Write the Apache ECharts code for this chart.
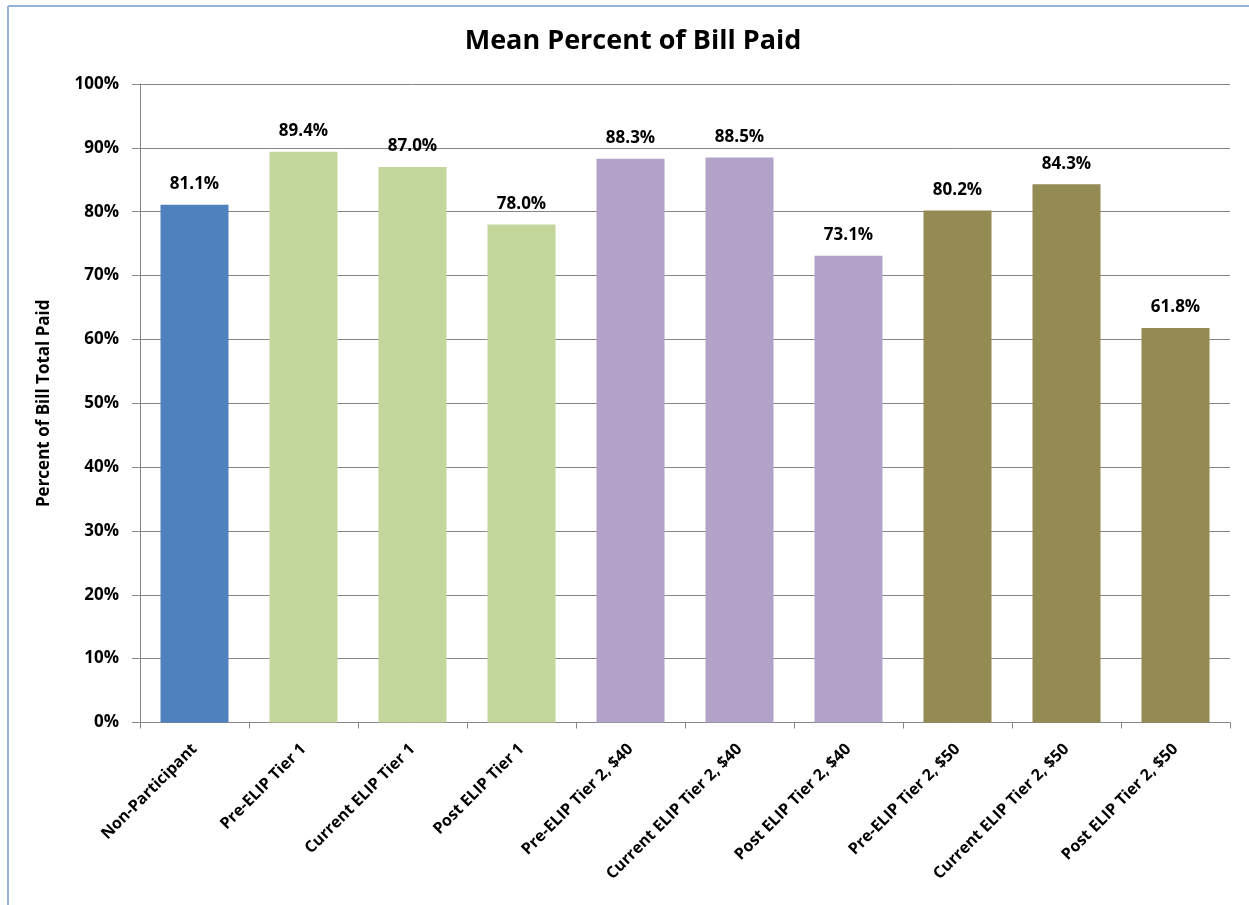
<!DOCTYPE html>
<html>
<head>
<meta charset="utf-8">
<script src="https://cdn.jsdelivr.net/npm/echarts@6/dist/echarts.min.js"></script>
<style>
html,body{margin:0;padding:0;background:#fff;}
#chart{width:1249px;height:905px;}
</style>
</head>
<body>
<div id="chart"></div>
<script>
const categories = ["Non-Participant","Pre-ELIP Tier 1","Current ELIP Tier 1","Post ELIP Tier 1","Pre-ELIP Tier 2, $40","Current ELIP Tier 2, $40","Post ELIP Tier 2, $40","Pre-ELIP Tier 2, $50","Current ELIP Tier 2, $50","Post ELIP Tier 2, $50"];
const values = [81.1, 89.4, 87.0, 78.0, 88.3, 88.5, 73.1, 80.2, 84.3, 61.8];
const barColors = ["#4F81BD","#C3D69B","#C3D69B","#C3D69B","#B2A2C7","#B2A2C7","#B2A2C7","#948A54","#948A54","#948A54"];
const yTicks = [0,10,20,30,40,50,60,70,80,90,100];

const FONT = "'Open Sans', 'Liberation Sans', sans-serif";
const chart = echarts.init(document.getElementById('chart'), null, {renderer:'canvas'});
chart.setOption({
  animation:false,
  backgroundColor:'#fff',
  title:{
    text:'Mean Percent of Bill Paid',
    left:628, top:23, textAlign:'center',
    textStyle:{fontFamily:FONT, fontSize:27, fontWeight:'bold', color:'#000'}
  },
  graphic:[
    {type:'line', shape:{x1:8,y1:6,x2:1249,y2:6}, style:{stroke:'#95B3D7', lineWidth:2}},
    {type:'line', shape:{x1:8,y1:6,x2:8,y2:905}, style:{stroke:'#95B3D7', lineWidth:2}}
  ],
  grid:{left:140, right:19, top:84, bottom:182.5, containLabel:false},
  xAxis:{
    type:'category',
    data:categories,
    axisLine:{lineStyle:{color:'#868686', width:1}},
    axisTick:{show:true, length:6, lineStyle:{color:'#868686'}},
    axisLabel:{rotate:45, margin:24, interval:0, fontFamily:FONT, fontSize:16, fontWeight:'bold', color:'#000'}
  },
  yAxis:{
    type:'value',
    min:0, max:100, interval:10,
    name:'Percent of Bill Total Paid',
    nameLocation:'middle', nameGap:87, nameRotate:90,
    nameTextStyle:{fontFamily:FONT, fontSize:17, fontWeight:'bold', color:'#000'},
    axisLine:{show:true, lineStyle:{color:'#868686', width:1}},
    axisTick:{show:true, inside:false, length:8, lineStyle:{color:'#868686'}},
    splitLine:{show:true, lineStyle:{color:'#868686', width:1}},
    axisLabel:{
      margin:21,
      fontFamily:FONT, fontSize:17, fontWeight:'bold', color:'#000',
      formatter:function(v){ return yTicks.indexOf(v) >= 0 ? v + '%' : ''; }
    }
  },
  series:[{
    type:'bar',
    data:values.map((v,i)=>({value:v, itemStyle:{color:barColors[i]}})),
    barWidth:68,
    label:{
      show:true, position:'top', distance:12,
      fontFamily:FONT, fontSize:17, fontWeight:'bold', color:'#000',
      formatter:function(p){ return p.value.toFixed(1) + '%'; }
    }
  }]
});
</script>
</body>
</html>
